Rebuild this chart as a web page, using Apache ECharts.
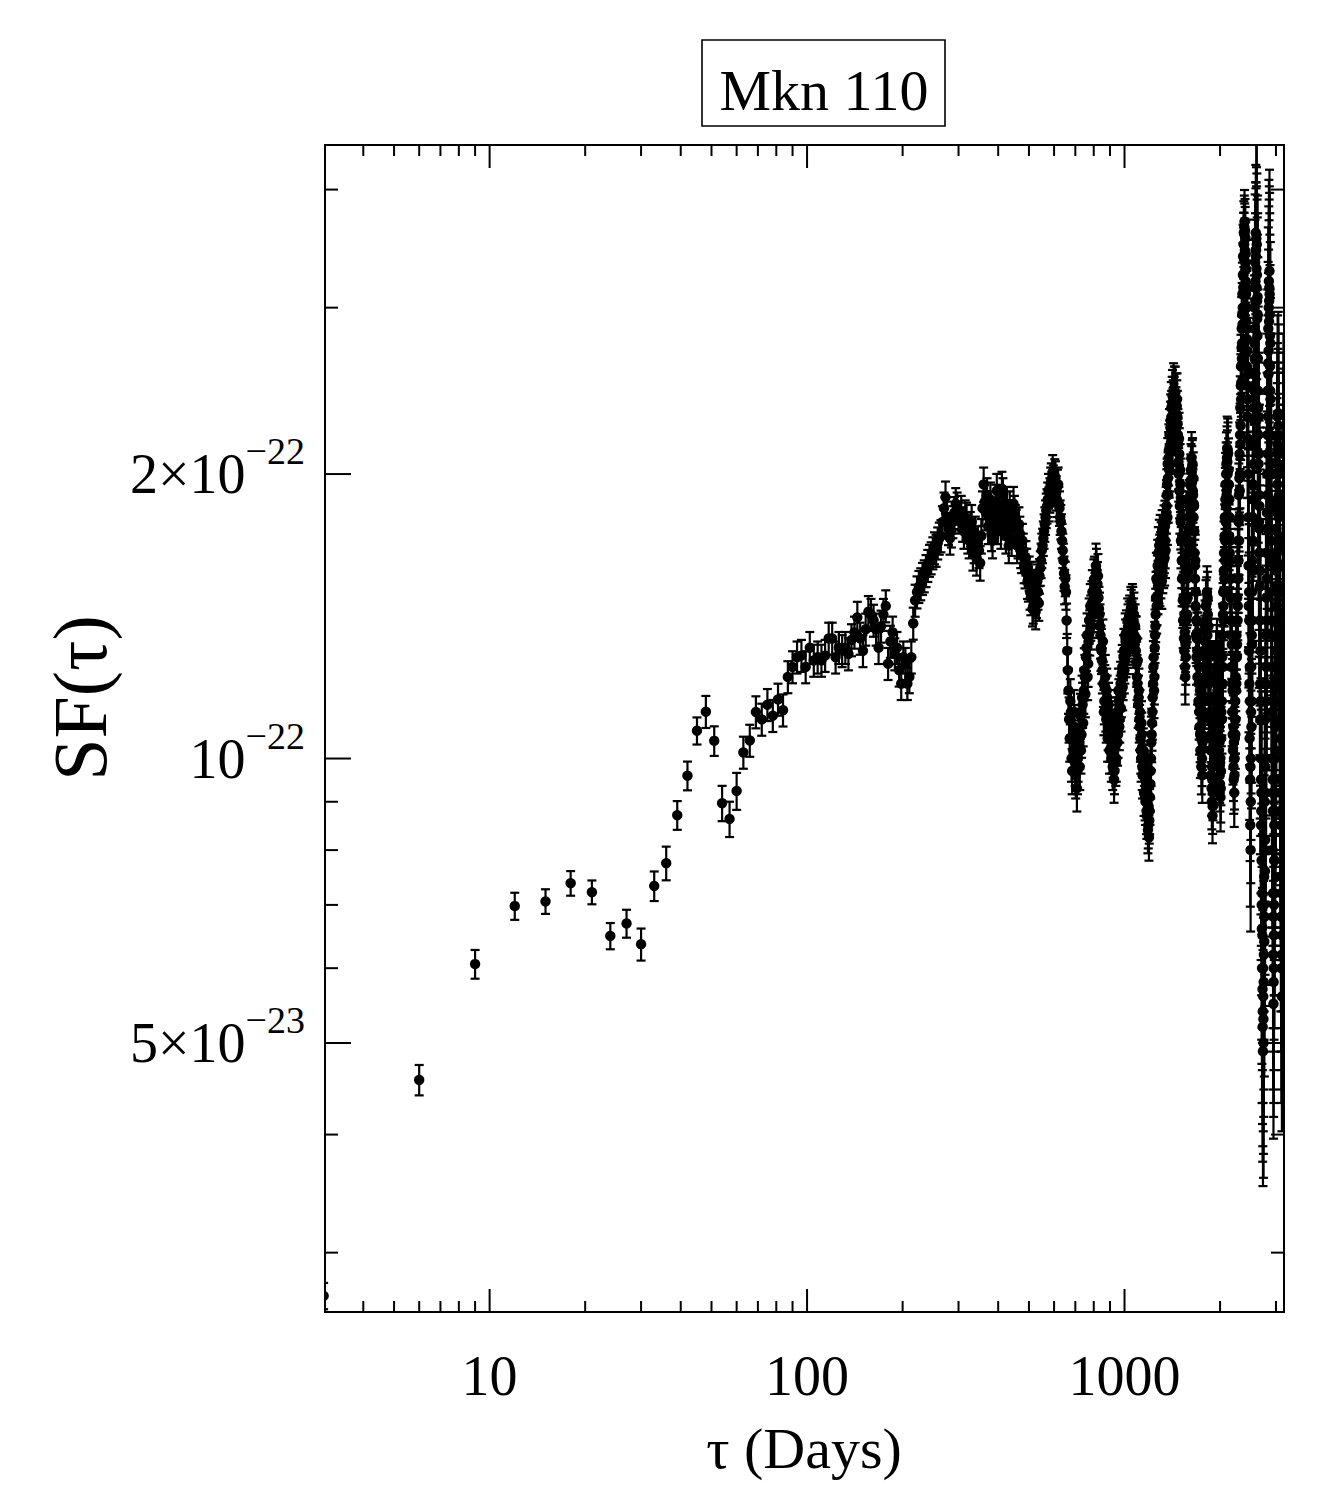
<!DOCTYPE html>
<html><head><meta charset="utf-8">
<script src="https://cdn.jsdelivr.net/npm/echarts@6/dist/echarts.min.js"></script>
<style>html,body{margin:0;padding:0;background:#fff}#c{width:1318px;height:1486px}</style>
</head><body><div id="c"></div>
<script>
// ---------------- DATA ----------------
// Lags tau (days): block A 3..300 every 3 days; block B 306..3180 every 6 days; block C 309..3177 every 6 days
const lagLowStart = 3, lagLowStep = 3;
const lagHighStart = 306, lagHighStep = 6;
const lagOddStart = 309, lagOddStep = 6;
// SF(tau) in units of 1e-22
const sfLow = [
0.270,0.457,0.606,0.698,0.706,0.738,0.722,0.649,0.669,0.636,
0.733,0.775,0.871,0.959,1.070,1.121,1.044,0.897,0.863,0.924,
1.015,1.045,1.12,1.10,1.14,1.11,1.155,1.125,1.22,1.25,
1.28,1.285,1.25,1.31,1.27,1.28,1.27,1.285,1.34,1.34,
1.28,1.31,1.30,1.31,1.29,1.335,1.36,1.41,1.34,1.30,
1.37,1.43,1.42,1.40,1.37,1.31,1.38,1.42,1.45,1.26,
1.33,1.36,1.29,1.31,1.24,1.20,1.28,1.26,1.20,1.22,
1.28,1.39,1.47,1.50,1.52,1.53,1.55,1.56,1.58,1.60,
1.62,1.63,1.65,1.67,1.66,1.69,1.71,1.72,1.78,1.84,
1.89,1.80,1.75,1.71,1.74,1.78,1.82,1.86,1.84,1.80
];
const sfHigh = [
1.82,1.74,1.79,1.70,1.78,1.68,1.63,1.66,1.72,1.95,
1.82,1.76,1.88,1.70,1.79,1.92,1.85,1.74,1.90,1.78,
1.86,1.68,1.80,1.75,1.82,1.76,1.70,1.73,1.64,1.66,
1.58,1.60,1.53,1.50,1.55,1.45,1.52,1.47,1.50,1.56,
1.62,1.68,1.74,1.80,1.85,1.92,1.90,1.97,2.01,1.93,
1.98,1.88,1.95,1.84,1.78,1.70,1.62,1.52,1.50,1.30,
1.18,1.05,1.12,0.97,1.02,1.08,0.96,0.93,1.00,1.04,
1.11,1.06,1.14,1.18,1.22,1.28,1.35,1.26,1.40,1.45,
1.38,1.50,1.47,1.55,1.52,1.58,1.53,1.48,1.42,1.35,
1.30,1.24,1.20,1.15,1.22,1.10,1.16,1.08,1.12,1.05,
1.09,1.02,0.98,1.04,0.97,1.08,1.00,1.12,1.06,1.15,
1.10,1.20,1.17,1.25,1.22,1.30,1.27,1.33,1.36,1.30,
1.38,1.34,1.41,1.37,1.43,1.39,1.44,1.40,1.35,1.38,
1.30,1.26,1.20,1.14,1.18,1.08,1.05,1.00,1.06,0.96,
1.02,0.92,0.98,0.90,0.95,0.87,0.93,0.85,0.825,0.88,
0.94,1.00,1.06,1.12,1.20,1.28,1.22,1.35,1.42,1.55,
1.48,1.60,1.65,1.56,1.62,1.70,1.58,1.64,1.72,1.60,
1.67,1.74,1.63,1.70,1.78,1.85,1.95,2.05,1.90,2.12,
2.20,2.05,2.28,2.35,2.20,2.42,2.30,2.46,2.38,2.25,
2.44,2.32,2.18,2.40,2.26,2.15,2.00,2.10,1.85,1.95,
1.70,1.80,1.55,1.62,1.40,1.48,1.30,1.36,1.22,1.28,
1.40,1.55,1.48,1.65,1.75,1.68,1.85,1.95,1.88,2.02,
2.08,1.96,2.05,1.90,1.80,1.85,1.65,1.55,1.45,1.35,
1.28,1.40,1.22,1.34,1.15,1.25,1.08,1.18,1.02,1.12,
0.98,1.06,0.96,1.10,1.20,1.05,1.30,1.15,1.38,1.22,
1.45,1.30,1.50,1.35,1.42,1.25,1.32,1.15,1.22,1.05,
1.12,0.96,1.02,0.90,0.95,0.89,0.98,1.08,1.00,1.15,
1.05,1.22,1.10,1.28,1.14,1.32,1.18,1.25,1.08,1.15,
0.98,1.04,0.94,1.00,0.93,1.05,1.20,1.10,1.35,1.25,
1.50,1.40,1.65,1.55,1.80,1.70,1.95,1.85,2.05,1.92,
2.13,2.00,2.10,1.88,1.95,1.72,1.80,1.55,1.62,1.40,
1.48,1.25,1.32,1.12,1.18,1.02,1.08,0.95,1.00,0.96,
1.05,1.15,1.10,1.28,1.20,1.40,1.32,1.55,1.45,1.70,
1.62,1.90,1.80,2.10,2.00,2.35,2.25,2.60,2.50,2.85,
2.75,3.10,3.00,3.40,3.25,3.60,3.50,3.70,3.45,3.55,
3.20,3.30,2.90,3.00,2.60,2.70,2.30,2.40,2.00,1.60,
1.30,1.40,1.05,1.15,0.85,0.80,1.00,1.25,1.15,1.50,
1.40,1.80,1.70,2.15,2.05,2.55,2.45,3.00,2.85,3.35,
3.20,3.60,3.45,3.30,3.50,3.05,2.80,2.95,2.45,2.20,
2.30,1.90,1.65,1.75,1.40,1.20,1.30,1.00,0.85,0.92,
0.70,0.60,0.65,0.52,0.49,0.56,0.50,0.62,0.75,0.68,
0.90,0.82,1.10,1.00,1.35,1.25,1.65,1.55,2.00,1.90,
2.45,2.30,2.85,2.70,3.20,3.05,3.28,2.95,2.60,2.75,
2.20,1.85,2.00,1.50,1.25,1.35,1.00,0.80,0.88,0.62,
0.55,0.60,0.70,0.85,0.78,1.00,0.92,1.20,1.10,1.45,
1.35,1.75,1.65,2.05,1.95,2.30,2.20,2.05,2.25,1.80,
1.90,1.50,1.60,1.20,1.30,0.95,1.05,0.75,0.85,0.60,
0.68,0.56,0.75,0.95,1.20,1.50,1.85,2.20,2.00,1.70
];
const sfOdd = [
1.77,1.80,1.72,1.75,1.65,1.73,1.69,1.61,1.84,1.87,
1.90,1.84,1.73,1.81,1.87,1.76,1.80,1.93,1.83,1.72,
1.79,1.84,1.71,1.86,1.78,1.68,1.77,1.66,1.70,1.60,
1.63,1.54,1.57,1.48,1.44,1.50,1.43,1.54,1.46,1.59,
1.66,1.71,1.77,1.83,1.88,1.86,1.95,1.93,1.96,1.99,
1.91,1.94,1.86,1.80,1.74,1.66,1.57,1.55,1.40,1.24,
1.10,1.15,1.00,1.06,1.12,0.99,1.03,0.97,1.07,0.98,
1.02,1.16,1.09,1.24,1.17,1.31,1.22,1.33,1.36,1.41,
1.46,1.42,1.54,1.49,1.60,1.50,1.56,1.44,1.38,1.31,
1.27,1.33,1.12,1.19,1.13,1.18,1.05,1.14,1.02,1.10,
1.00,1.06,1.01,0.95,1.03,0.99,1.10,1.04,1.18,1.08,
1.16,1.13,1.23,1.19,1.28,1.24,1.35,1.29,1.32,1.40,
1.33,1.39,1.36,1.44,1.40,1.45,1.37,1.42,1.32,1.34,
1.34,1.22,1.27,1.16,1.10,1.12,1.02,1.09,0.98,1.01,
0.97,0.99,0.91,0.96,0.88,0.92,0.84,0.89,0.86,0.91,
0.97,1.04,1.09,1.16,1.25,1.18,1.31,1.38,1.48,1.45,
1.54,1.52,1.58,1.68,1.55,1.63,1.67,1.54,1.66,1.69,
1.62,1.68,1.76,1.66,1.82,1.90,1.80,1.98,2.08,2.02,
2.14,2.24,2.16,2.30,2.38,2.26,2.36,2.34,2.44,2.32,
2.40,2.24,2.36,2.30,2.20,2.06,2.18,1.92,2.02,1.78,
1.88,1.62,1.72,1.47,1.55,1.34,1.42,1.25,1.32,1.34,
1.47,1.42,1.60,1.58,1.70,1.80,1.76,1.90,1.97,1.94,
2.01,2.04,1.92,1.98,1.86,1.74,1.60,1.62,1.50,1.40,
1.34,1.30,1.36,1.28,1.20,1.12,1.14,1.06,1.08,1.05,
1.02,1.00,1.04,1.15,1.12,1.25,1.22,1.33,1.28,1.40,
1.38,1.46,1.40,1.48,1.30,1.38,1.20,1.28,1.10,1.16,
1.02,1.06,0.93,0.98,0.87,0.92,1.03,0.95,1.10,1.08,
1.16,1.12,1.25,1.20,1.30,1.22,1.28,1.12,1.20,1.02,
1.08,0.96,0.99,0.91,0.97,1.12,1.15,1.28,1.20,1.42,
1.45,1.58,1.50,1.72,1.62,1.88,1.78,2.00,1.90,2.08,
2.06,2.12,1.95,2.02,1.80,1.88,1.65,1.70,1.48,1.55,
1.35,1.40,1.20,1.25,1.06,1.12,0.98,1.04,0.92,1.00,
1.10,1.06,1.22,1.18,1.35,1.28,1.48,1.40,1.62,1.55,
1.78,1.70,1.98,1.92,2.20,2.15,2.48,2.40,2.72,2.65,
2.95,2.88,3.25,3.15,3.50,3.38,3.65,3.58,3.62,3.35,
3.42,3.10,3.15,2.78,2.85,2.48,2.55,2.18,1.80,1.45,
1.50,1.20,1.25,0.95,0.98,0.90,1.12,1.08,1.35,1.32,
1.62,1.58,1.95,1.88,2.35,2.28,2.75,2.65,3.15,3.05,
3.45,3.40,3.55,3.15,3.25,2.92,3.08,2.65,2.35,2.05,
2.10,1.78,1.85,1.52,1.58,1.10,1.15,0.95,0.88,0.78,
0.66,0.72,0.57,0.54,0.60,0.53,0.58,0.70,0.64,0.80,
0.76,0.98,0.92,1.20,1.15,1.48,1.40,1.82,1.75,2.20,
2.10,2.62,2.55,3.00,2.90,3.15,3.10,2.80,2.45,2.40,
2.05,1.70,1.62,1.40,1.12,1.15,0.92,0.95,0.72,0.68,
0.58,0.65,0.78,0.72,0.92,0.88,1.08,1.02,1.30,1.25,
1.58,1.52,1.88,1.82,2.15,2.10,2.12,2.32,2.00,1.70,
1.68,1.72,1.38,1.42,1.10,1.15,0.88,0.92,0.68,0.72,
0.62,0.65,0.85,1.05,1.35,1.68,2.02,2.10,1.85
];
// error bars (percent of SF): individual for tau = 3..60, then by lag range [upper tau, percent]
const errLowPct = [3.2,3.7,3.5,3.3,3.0,3.0,2.9,3.2,3.4,3.9,3.6,4.1,3.5,3.5,3.3,3.9,3.6,4.3,4.3,4.5];
const errPctByLag = [[300,3.9],[660,4.2],[1200,5.5],[2000,6.5],[2420,8.0],[2600,18],[1e9,28]];

// axes / tick labels
const xRange = [3.03, 3180];
const yRange = [0.2596, 4.459]; // units of 1e-22
const xMajorTicks = [10, 100, 1000];
const xTickLabels = ['10', '100', '1000'];
const xMinorTicks = [4,5,6,7,8,9,20,30,40,50,60,70,80,90,200,300,400,500,600,700,800,900,2000,3000];
const yMajorTicks = [0.5, 1, 2];
const yTickMantissa = ['5×10', '10', '2×10'];
const yTickExponent = ['−23', '−22', '−22'];
const yMinorTicks = [0.3,0.4,0.6,0.7,0.8,0.9,3,4];
const titleText = 'Mkn 110';
const xTitle = 'τ (Days)';
const yTitle = 'SF(τ)';

// ---------------- BUILD ----------------
const FONT = '"Liberation Serif","Times New Roman",Times,serif';
function errFor(tau, i) {
  if (tau <= 60) return errLowPct[i];
  for (const r of errPctByLag) if (tau <= r[0]) return r[1];
  return 28;
}
const points = [];
function addBlock(arr, start, step) {
  arr.forEach((v, i) => { const t = start + i * step; points.push([t, v, v * errFor(t, i) / 100]); });
}
addBlock(sfLow, lagLowStart, lagLowStep);
addBlock(sfHigh, lagHighStart, lagHighStep);
addBlock(sfOdd, lagOddStart, lagOddStep);

const L = 325, T = 145, W = 959, H = 1167, R = L + W, B = T + H;
const chart = echarts.init(document.getElementById('c'), null, {renderer: 'svg', width: 1318, height: 1486});
const hiddenAxis = {axisLine:{show:false}, axisTick:{show:false}, axisLabel:{show:false}, splitLine:{show:false}, minorTick:{show:false}};
chart.setOption({
  animation: false,
  backgroundColor: '#fff',
  grid: {left: L, top: T, width: W, height: H, show: true, borderColor: '#000', borderWidth: 2, backgroundColor: 'transparent'},
  xAxis: Object.assign({type: 'log', logBase: 10, min: xRange[0], max: xRange[1]}, hiddenAxis),
  yAxis: Object.assign({type: 'log', logBase: 10, min: yRange[0], max: yRange[1]}, hiddenAxis),
  series: [{
    type: 'custom', clip: true, progressive: 0,
    dimensions: ['tau', 'sf', 'err'], encode: {x: 0, y: 1},
    data: points,
    renderItem: function (params, api) {
      const t = api.value(0), v = api.value(1), e = api.value(2);
      const c = api.coord([t, v]);
      const up = api.coord([t, v + e])[1];
      const dn = api.coord([t, Math.max(v - e, 1e-6)])[1];
      const st = {stroke: '#000', lineWidth: 2.2};
      const hw = 4.5;
      return {type: 'group', children: [
        {type: 'line', shape: {x1: c[0], y1: up, x2: c[0], y2: dn}, style: st},
        {type: 'line', shape: {x1: c[0] - hw, y1: up, x2: c[0] + hw, y2: up}, style: st},
        {type: 'line', shape: {x1: c[0] - hw, y1: dn, x2: c[0] + hw, y2: dn}, style: st},
        {type: 'circle', shape: {cx: c[0], cy: c[1], r: 5.2}, style: {fill: '#000'}}
      ]};
    }
  }]
});

const g = [];
const xp = v => chart.convertToPixel({xAxisIndex: 0}, v);
const yp = v => chart.convertToPixel({yAxisIndex: 0}, v);
function tick(x1, y1, x2, y2) { g.push({type: 'line', silent: true, z: 20, shape: {x1, y1, x2, y2}, style: {stroke: '#000', lineWidth: 2}}); }
xMajorTicks.forEach(v => { const x = xp(v); tick(x, B, x, B - 23); tick(x, T, x, T + 23); });
xMinorTicks.forEach(v => { const x = xp(v); tick(x, B, x, B - 11); tick(x, T, x, T + 11); });
yMajorTicks.forEach(v => { const y = yp(v); tick(L, y, L + 26, y); tick(R, y, R - 26, y); });
yMinorTicks.forEach(v => { const y = yp(v); tick(L, y, L + 13, y); tick(R, y, R - 13, y); });

xMajorTicks.forEach((v, i) => {
  g.push({type: 'text', silent: true, x: xp(v), y: 1376, style: {text: xTickLabels[i], font: '56px ' + FONT, fill: '#000', align: 'center', verticalAlign: 'middle'}});
});
yMajorTicks.forEach((v, i) => {
  g.push({type: 'text', silent: true, x: 305, y: yp(v), style: {
    text: '{b|' + yTickMantissa[i] + '}{s|' + yTickExponent[i] + '}',
    align: 'right', verticalAlign: 'middle',
    rich: {
      b: {fontSize: 56, fontFamily: FONT, lineHeight: 84, fill: '#000'},
      s: {fontSize: 38, fontFamily: FONT, lineHeight: 38, verticalAlign: 'top', fill: '#000'}
    }
  }});
});
// title box
g.push({type: 'rect', silent: true, shape: {x: 702, y: 40, width: 243, height: 86}, style: {fill: '#fff', stroke: '#000', lineWidth: 1.6}});
g.push({type: 'text', silent: true, x: 824, y: 90, style: {text: titleText, font: '58px ' + FONT, fill: '#000', align: 'center', verticalAlign: 'middle'}});
// axis titles
g.push({type: 'text', silent: true, x: 804, y: 1448, style: {text: xTitle, font: '58px ' + FONT, fill: '#000', align: 'center', verticalAlign: 'middle'}});
g.push({type: 'text', silent: true, x: 80, y: 698, rotation: Math.PI / 2, style: {text: yTitle, font: '76px ' + FONT, fill: '#000', align: 'center', verticalAlign: 'middle'}});

chart.setOption({graphic: {elements: g}});
</script>
</body></html>
